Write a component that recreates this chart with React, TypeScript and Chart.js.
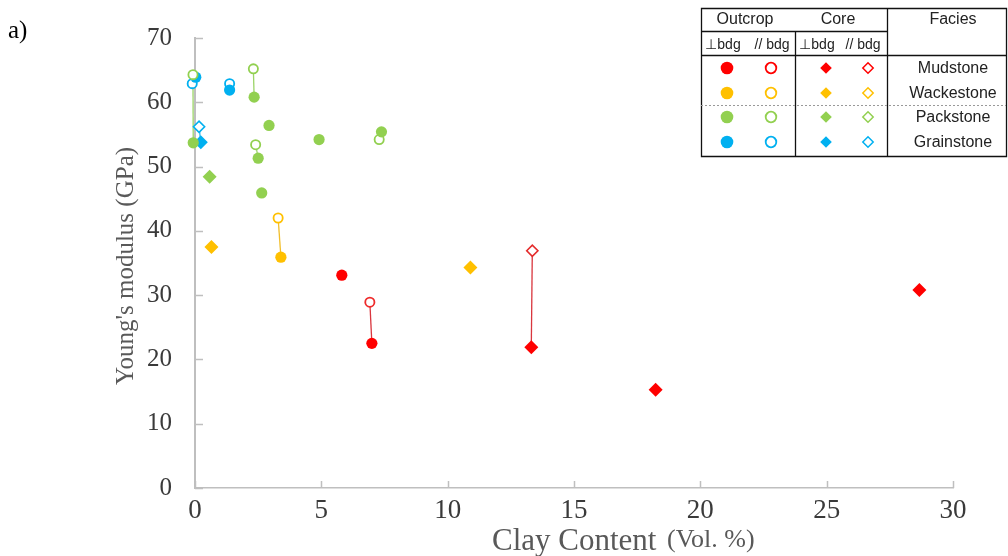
import React, { useEffect, useRef } from "react";
import { Chart, registerables } from "chart.js";

Chart.register(...registerables);

// ---------- data (x = clay content vol.%, y = Young's modulus GPa) ----------
const xTickValues = [0, 5, 10, 15, 20, 25, 30];
const yTickValues = [0, 10, 20, 30, 40, 50, 60, 70];

// Mudstone
const mudOutcropPerp = [[5.81, 33.1], [7.0, 22.5]];
const mudOutcropPar = [[6.92, 28.9]];
const mudCorePerp = [[13.31, 21.9], [18.23, 15.3], [28.67, 30.8]];
const mudCorePar = [[13.35, 36.9]];
// Wackestone
const wackOutcropPerp = [[3.4, 35.9]];
const wackOutcropPar = [[3.29, 42.0]];
const wackCorePerp = [[0.65, 37.5], [10.9, 34.3]];
// Packstone
const packOutcropPerp = [[-0.07, 53.7], [2.34, 60.8], [2.93, 56.4], [2.5, 51.3], [2.64, 45.9], [4.91, 54.2], [7.38, 55.4]];
const packOutcropPar = [[-0.08, 64.3], [2.31, 65.2], [2.4, 53.4], [7.29, 54.2]];
const packCorePerp = [[0.58, 48.4]];
// Grainstone
const grainOutcropPerp = [[0.03, 63.9], [1.37, 61.9]];
const grainOutcropPar = [[-0.11, 62.9], [1.37, 62.9]];
const grainCorePerp = [[0.23, 53.8]];
const grainCorePar = [[0.16, 56.2]];

// pairs: parallel measurement -> perpendicular measurement of the same sample
const links: [string, number, string, number][] = [
  ["packOPar", 0, "packOPerp", 0],
  ["packOPar", 1, "packOPerp", 1],
  ["packOPar", 2, "packOPerp", 3],
  ["packOPar", 3, "packOPerp", 6],
  ["grainOPar", 0, "grainOPerp", 0],
  ["grainOPar", 1, "grainOPerp", 1],
  ["grainCPar", 0, "grainCPerp", 0],
  ["wackOPar", 0, "wackOPerp", 0],
  ["mudOPar", 0, "mudOPerp", 1],
  ["mudCPar", 0, "mudCPerp", 0],
];

const faciesNames = ["Mudstone", "Wackestone", "Packstone", "Grainstone"];

// ---------- styles ----------
const RED = "#FF0000";
const YELLOW = "#FFC000";
const GREEN = "#92D050";
const BLUE = "#00B0F0";
const faciesColors = [RED, YELLOW, GREEN, BLUE];
const lineColors: Record<string, string> = { mud: "#D9363E", wack: "#F2BE2A", pack: "#9CD468", grain: "#2BB8EE" };

const series: { key: string; data: number[][]; color: string; kind: string; fam: string }[] = [
  { key: "mudOPerp", data: mudOutcropPerp, color: RED, kind: "fc", fam: "mud" },
  { key: "mudOPar", data: mudOutcropPar, color: "#EE2B2B", kind: "oc", fam: "mud" },
  { key: "mudCPerp", data: mudCorePerp, color: RED, kind: "fd", fam: "mud" },
  { key: "mudCPar", data: mudCorePar, color: "#E42B2B", kind: "od", fam: "mud" },
  { key: "wackOPerp", data: wackOutcropPerp, color: YELLOW, kind: "fc", fam: "wack" },
  { key: "wackOPar", data: wackOutcropPar, color: YELLOW, kind: "oc", fam: "wack" },
  { key: "wackCPerp", data: wackCorePerp, color: YELLOW, kind: "fd", fam: "wack" },
  { key: "packOPerp", data: packOutcropPerp, color: GREEN, kind: "fc", fam: "pack" },
  { key: "packOPar", data: packOutcropPar, color: GREEN, kind: "oc", fam: "pack" },
  { key: "packCPerp", data: packCorePerp, color: GREEN, kind: "fd", fam: "pack" },
  { key: "grainOPerp", data: grainOutcropPerp, color: BLUE, kind: "fc", fam: "grain" },
  { key: "grainOPar", data: grainOutcropPar, color: BLUE, kind: "oc", fam: "grain" },
  { key: "grainCPerp", data: grainCorePerp, color: BLUE, kind: "fd", fam: "grain" },
  { key: "grainCPar", data: grainCorePar, color: BLUE, kind: "od", fam: "grain" },
];

const SERIF = "'Liberation Serif', 'Times New Roman', serif";
const SANS = "'Liberation Sans', Arial, sans-serif";

function markerProps(kind: string, color: string) {
  switch (kind) {
    case "fc":
      return { pointStyle: "circle", pointRadius: 5.6, pointBackgroundColor: color, pointBorderColor: color, pointBorderWidth: 0 };
    case "oc":
      return { pointStyle: "circle", pointRadius: 4.6, pointBackgroundColor: "#FFFFFF", pointBorderColor: color, pointBorderWidth: 1.8 };
    case "fd":
      return { pointStyle: "rectRot", pointRadius: 7, pointBackgroundColor: color, pointBorderColor: color, pointBorderWidth: 0 };
    default:
      return { pointStyle: "rectRot", pointRadius: 5.6, pointBackgroundColor: "#FFFFFF", pointBorderColor: color, pointBorderWidth: 1.6 };
  }
}

function drawCircle(ctx: CanvasRenderingContext2D, x: number, y: number, r: number, color: string, filled: boolean) {
  ctx.beginPath();
  ctx.arc(x, y, r, 0, Math.PI * 2);
  if (filled) {
    ctx.fillStyle = color;
    ctx.fill();
  } else {
    ctx.fillStyle = "#fff";
    ctx.fill();
    ctx.lineWidth = 1.8;
    ctx.strokeStyle = color;
    ctx.stroke();
  }
}
function drawDiamond(ctx: CanvasRenderingContext2D, x: number, y: number, r: number, color: string, filled: boolean) {
  ctx.beginPath();
  ctx.moveTo(x - r, y);
  ctx.lineTo(x, y - r);
  ctx.lineTo(x + r, y);
  ctx.lineTo(x, y + r);
  ctx.closePath();
  if (filled) {
    ctx.fillStyle = color;
    ctx.fill();
  } else {
    ctx.fillStyle = "#fff";
    ctx.fill();
    ctx.lineWidth = 1.5;
    ctx.strokeStyle = color;
    ctx.stroke();
  }
}

const decorPlugin = {
  id: "decor",
  beforeDatasetsDraw(chart: any) {
    const ctx = chart.ctx as CanvasRenderingContext2D;
    const xs = chart.scales.x;
    const ys = chart.scales.y;
    const area = chart.chartArea;
    ctx.save();
    ctx.strokeStyle = "#BFBFBF";
    ctx.lineWidth = 1.5;
    for (const v of xTickValues) {
      const px = Math.round(xs.getPixelForValue(v)) + 0.5;
      ctx.beginPath();
      ctx.moveTo(px, area.bottom);
      ctx.lineTo(px, area.bottom - 7);
      ctx.stroke();
    }
    for (const v of yTickValues) {
      const py = Math.round(ys.getPixelForValue(v)) + 0.5;
      ctx.beginPath();
      ctx.moveTo(area.left, py);
      ctx.lineTo(area.left + 8, py);
      ctx.stroke();
    }
    ctx.restore();
  },
  afterDraw(chart: any) {
    const ctx = chart.ctx as CanvasRenderingContext2D;
    ctx.save();
    // panel label
    ctx.fillStyle = "#000";
    ctx.font = `25px ${SERIF}`;
    ctx.textAlign = "left";
    ctx.textBaseline = "alphabetic";
    ctx.fillText("a)", 8, 38);

    // y title
    ctx.save();
    ctx.translate(126, 266);
    ctx.rotate(-Math.PI / 2);
    ctx.fillStyle = "#595959";
    ctx.font = `25px ${SERIF}`;
    ctx.textAlign = "center";
    ctx.textBaseline = "middle";
    ctx.fillText("Young's modulus (GPa)", 0, 0);
    ctx.restore();

    // x title
    ctx.fillStyle = "#595959";
    ctx.textAlign = "left";
    ctx.textBaseline = "alphabetic";
    ctx.font = `31px ${SERIF}`;
    ctx.fillText("Clay Content", 492, 550);
    ctx.font = `26px ${SERIF}`;
    ctx.fillText("(Vol. %)", 667, 547);

    // legend table
    const L = 701, R = 1006, T = 8, B = 156;
    const c1 = 795, c2 = 887;
    const h1 = 31, h2 = 55, hd = 105;
    ctx.strokeStyle = "#111";
    ctx.lineWidth = 1.3;
    ctx.fillStyle = "#fff";
    ctx.fillRect(L, T, R - L, B - T);
    ctx.beginPath();
    ctx.rect(L + 0.5, T + 0.5, R - L, B - T);
    ctx.moveTo(c2 + 0.5, T);
    ctx.lineTo(c2 + 0.5, B);
    ctx.moveTo(c1 + 0.5, h1);
    ctx.lineTo(c1 + 0.5, B);
    ctx.moveTo(L, h1 + 0.5);
    ctx.lineTo(c2, h1 + 0.5);
    ctx.moveTo(L, h2 + 0.5);
    ctx.lineTo(R, h2 + 0.5);
    ctx.stroke();
    ctx.save();
    ctx.setLineDash([2, 2]);
    ctx.strokeStyle = "#999";
    ctx.lineWidth = 1;
    ctx.beginPath();
    ctx.moveTo(L, hd + 0.5);
    ctx.lineTo(R, hd + 0.5);
    ctx.stroke();
    ctx.restore();

    ctx.fillStyle = "#222";
    ctx.textAlign = "center";
    ctx.textBaseline = "middle";
    ctx.font = `16px ${SANS}`;
    ctx.fillText("Outcrop", 745, 20);
    ctx.fillText("Core", 838, 20);
    ctx.fillText("Facies", 953, 20);
    ctx.font = `14px ${SANS}`;
    ctx.fillText("\u22A5bdg", 723, 45);
    ctx.fillText("// bdg", 772, 45);
    ctx.fillText("\u22A5bdg", 817, 45);
    ctx.fillText("// bdg", 863, 45);

    const rowY = [68, 93, 117, 142];
    ctx.font = `16px ${SANS}`;
    for (let i = 0; i < 4; i++) {
      const y = rowY[i];
      const col = faciesColors[i];
      drawCircle(ctx, 727, y, 6.3, col, true);
      drawCircle(ctx, 771, y, 5.3, col, false);
      drawDiamond(ctx, 826, y, 5.8, col, true);
      drawDiamond(ctx, 868, y, 5.2, col, false);
      ctx.fillStyle = "#222";
      ctx.fillText(faciesNames[i], 953, y + 1);
    }
    ctx.restore();
  },
};

export default function App() {
  const ref = useRef<HTMLCanvasElement | null>(null);
  useEffect(() => {
    if (!ref.current) return;
    const byKey: Record<string, number[][]> = {};
    series.forEach((s) => (byKey[s.key] = s.data));

    const linkSets = links.map(([a, ia, b, ib]) => {
      const fam = series.find((s) => s.key === a)!.fam;
      return {
        type: "line" as const,
        data: [
          { x: byKey[a][ia][0], y: byKey[a][ia][1] },
          { x: byKey[b][ib][0], y: byKey[b][ib][1] },
        ],
        borderColor: lineColors[fam],
        borderWidth: 1.3,
        pointRadius: 0,
        showLine: true,
        fill: false,
        clip: false as any,
        order: 5,
      };
    });
    const pointSets = series.map((s) => ({
      type: "scatter" as const,
      label: s.key,
      data: s.data.map(([x, y]) => ({ x, y })),
      showLine: false,
      clip: false as any,
      order: 1,
      ...markerProps(s.kind, s.color),
    }));

    const chart = new Chart(ref.current, {
      type: "scatter",
      data: { datasets: [...pointSets, ...linkSets] as any },
      options: {
        responsive: false,
        animation: false,
        devicePixelRatio: 1,
        layout: { padding: { left: 0, right: 55, top: 18, bottom: 0 } },
        plugins: { legend: { display: false }, tooltip: { enabled: false } },
        scales: {
          x: {
            type: "linear",
            min: 0,
            max: 30,
            afterFit: (s: any) => {
              s.height = 68;
            },
            afterBuildTicks: (s: any) => {
              s.ticks = xTickValues.map((v) => ({ value: v }));
            },
            grid: { display: true, drawOnChartArea: false, drawTicks: false },
            border: { display: true, color: "#BFBFBF", width: 1.6 },
            ticks: { color: "#3A3A3A", font: { family: SERIF, size: 27 }, padding: 7, maxRotation: 0 },
          },
          y: {
            type: "linear",
            min: 0,
            max: 70,
            afterFit: (s: any) => {
              s.width = 195;
            },
            afterBuildTicks: (s: any) => {
              s.ticks = yTickValues.map((v) => ({ value: v }));
            },
            grid: { display: true, drawOnChartArea: false, drawTicks: false },
            border: { display: true, color: "#BFBFBF", width: 2 },
            ticks: { color: "#3A3A3A", font: { family: SERIF, size: 25 }, padding: 23 },
          },
        },
      },
      plugins: [decorPlugin as any],
    });
    return () => chart.destroy();
  }, []);

  return (
    <div style={{ position: "absolute", left: 0, top: 0, width: 1008, height: 556, background: "#fff" }}>
      <canvas ref={ref} width={1008} height={556} style={{ display: "block", width: 1008, height: 556 }} />
    </div>
  );
}
